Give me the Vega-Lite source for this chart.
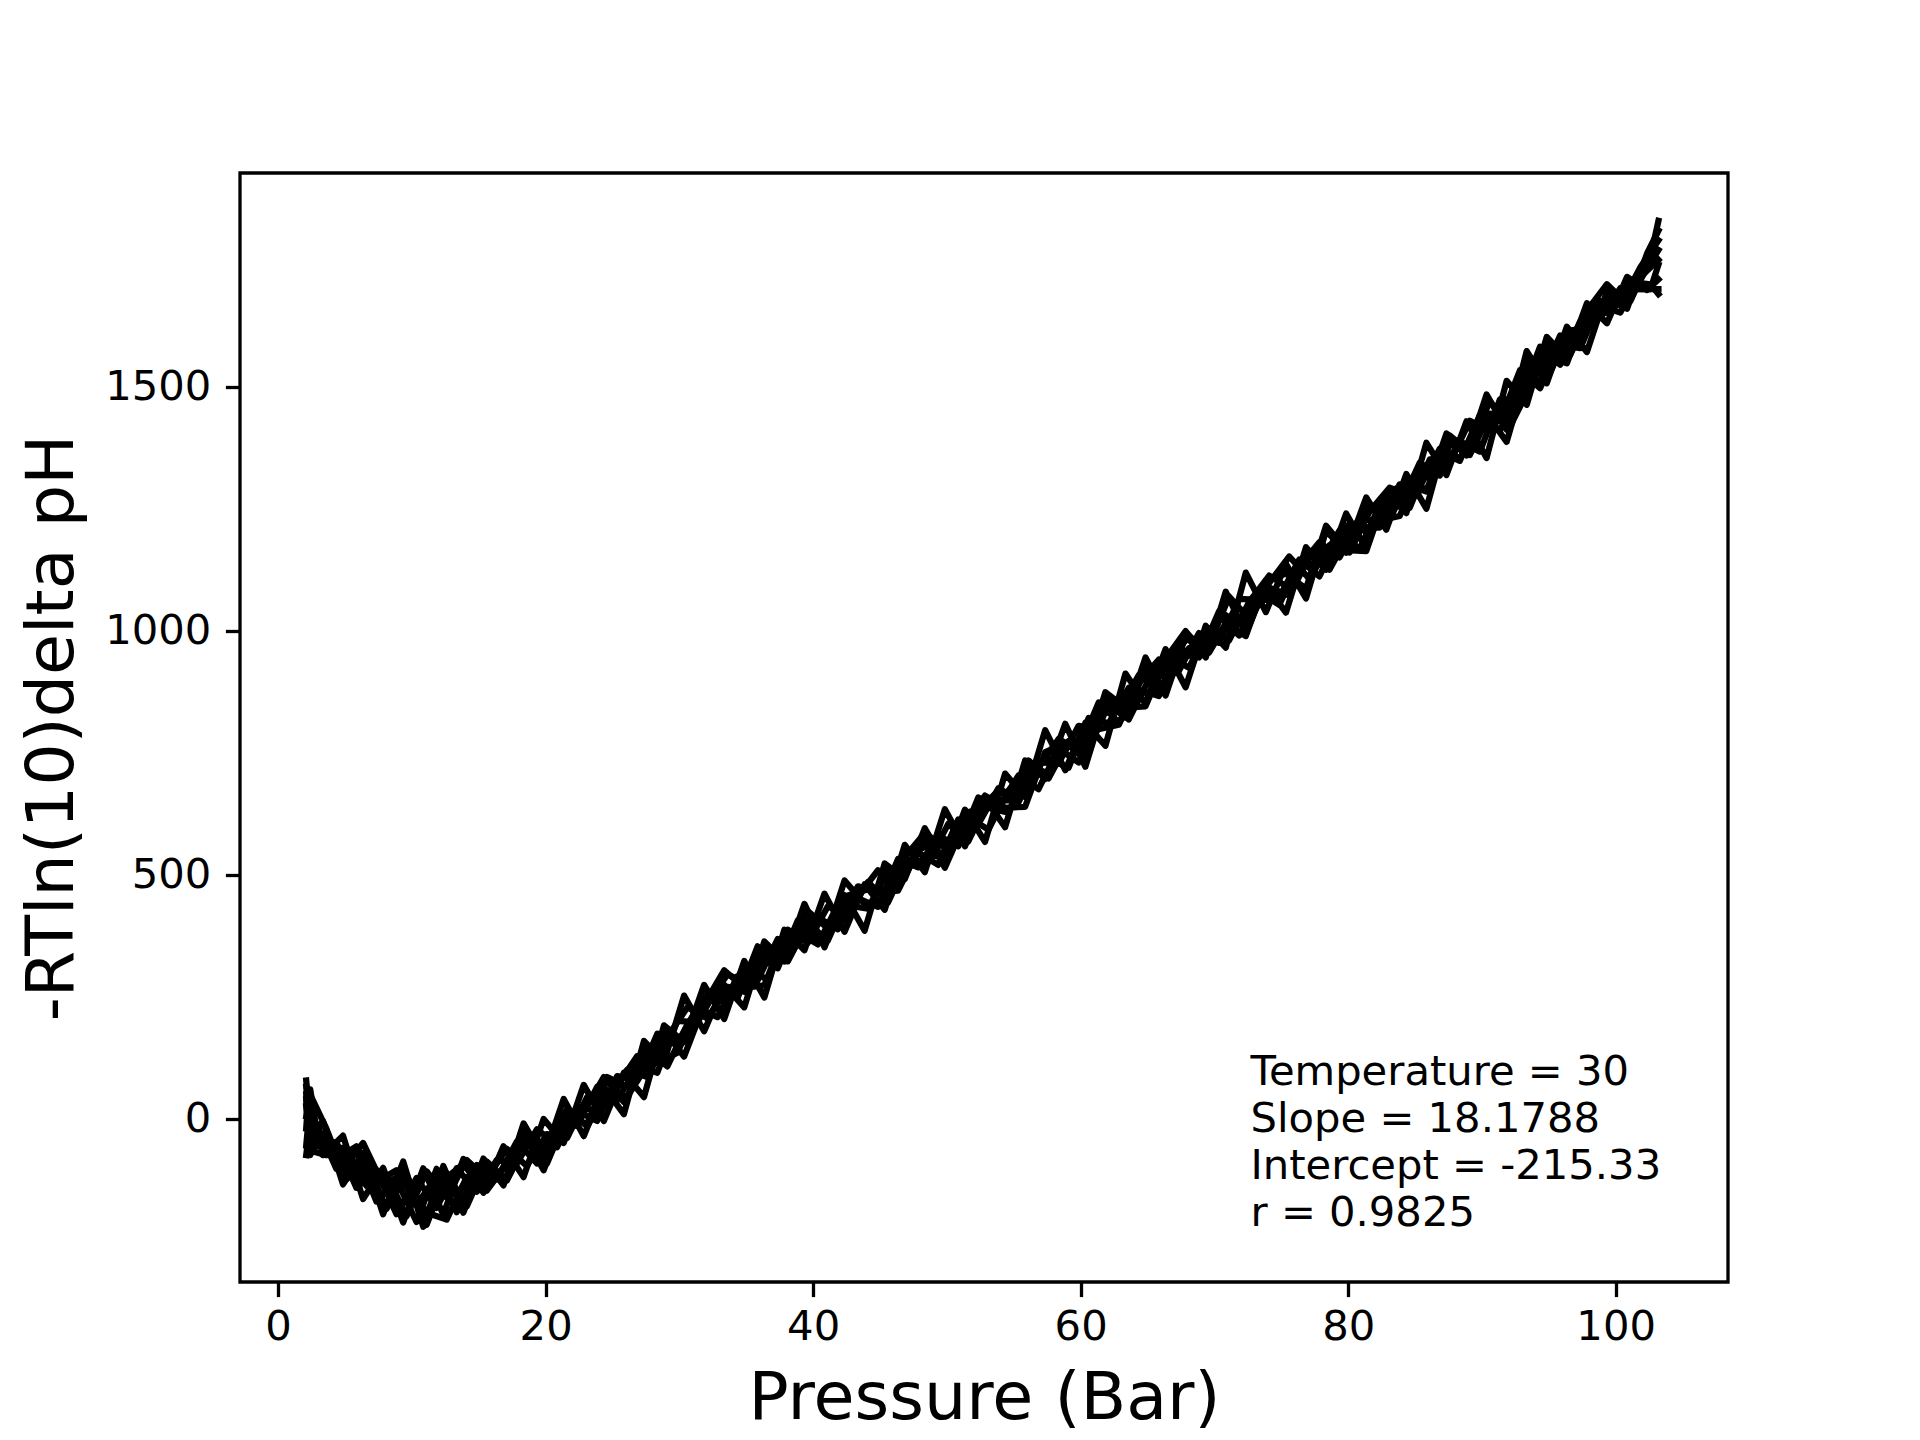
{
  "$schema": "https://vega.github.io/schema/vega-lite/v6.json",
  "width": 1488,
  "height": 1109,
  "autosize": {"type": "none"},
  "padding": {"left": 240, "top": 173, "right": 192, "bottom": 158},
  "background": "white",
  "config": {
    "font": "DejaVu Sans",
    "view": {"stroke": "black", "strokeWidth": 3.3},
    "axis": {
      "domain": false,
      "grid": false,
      "tickColor": "black",
      "tickWidth": 3.3,
      "tickSize": 14.6,
      "labelFont": "DejaVu Sans",
      "labelFontSize": 41.7,
      "labelColor": "black",
      "labelPadding": 14.6,
      "titleFont": "DejaVu Sans",
      "titleFontSize": 66.7,
      "titleFontWeight": "normal",
      "titleColor": "black"
    }
  },
  "layer": [
    {
      "data": {
        "values": [
          {"s": "1", "p": 2.1, "v": 78}, {"s": "1", "p": 2.3, "v": 20}, {"s": "1", "p": 3.6, "v": -60}, {"s": "1", "p": 5.1, "v": -60},
          {"s": "1", "p": 6.6, "v": -138}, {"s": "1", "p": 8.1, "v": -115}, {"s": "1", "p": 9.6, "v": -200}, {"s": "1", "p": 11.1, "v": -108},
          {"s": "1", "p": 12.6, "v": -162}, {"s": "1", "p": 14.1, "v": -85}, {"s": "1", "p": 15.6, "v": -123}, {"s": "1", "p": 17.1, "v": -62},
          {"s": "1", "p": 18.6, "v": -97}, {"s": "1", "p": 20.1, "v": -32}, {"s": "1", "p": 21.6, "v": -40}, {"s": "1", "p": 23.1, "v": 44},
          {"s": "1", "p": 24.6, "v": 35}, {"s": "1", "p": 26.1, "v": 100}, {"s": "1", "p": 27.6, "v": 85}, {"s": "1", "p": 29.1, "v": 167},
          {"s": "1", "p": 30.6, "v": 228}, {"s": "1", "p": 32.1, "v": 205}, {"s": "1", "p": 33.6, "v": 270}, {"s": "1", "p": 35.1, "v": 258},
          {"s": "1", "p": 36.6, "v": 348}, {"s": "1", "p": 38.1, "v": 342}, {"s": "1", "p": 39.6, "v": 425}, {"s": "1", "p": 41.1, "v": 390},
          {"s": "1", "p": 42.6, "v": 437}, {"s": "1", "p": 44.1, "v": 430}, {"s": "1", "p": 45.6, "v": 508}, {"s": "1", "p": 47.1, "v": 511},
          {"s": "1", "p": 48.6, "v": 580}, {"s": "1", "p": 50.1, "v": 549}, {"s": "1", "p": 51.6, "v": 618}, {"s": "1", "p": 53.1, "v": 592},
          {"s": "1", "p": 54.6, "v": 672}, {"s": "1", "p": 56.1, "v": 724}, {"s": "1", "p": 57.6, "v": 707}, {"s": "1", "p": 59.1, "v": 764},
          {"s": "1", "p": 60.6, "v": 756}, {"s": "1", "p": 62.1, "v": 850}, {"s": "1", "p": 63.6, "v": 848}, {"s": "1", "p": 65.1, "v": 930},
          {"s": "1", "p": 66.6, "v": 897}, {"s": "1", "p": 68.1, "v": 964}, {"s": "1", "p": 69.6, "v": 970}, {"s": "1", "p": 71.1, "v": 1070},
          {"s": "1", "p": 72.6, "v": 1024}, {"s": "1", "p": 74.1, "v": 1088}, {"s": "1", "p": 75.6, "v": 1072}, {"s": "1", "p": 77.1, "v": 1151},
          {"s": "1", "p": 78.6, "v": 1155}, {"s": "1", "p": 80.1, "v": 1220}, {"s": "1", "p": 81.6, "v": 1199}, {"s": "1", "p": 83.1, "v": 1268},
          {"s": "1", "p": 84.6, "v": 1252}, {"s": "1", "p": 86.1, "v": 1351}, {"s": "1", "p": 87.6, "v": 1345}, {"s": "1", "p": 89.1, "v": 1430},
          {"s": "1", "p": 90.6, "v": 1410}, {"s": "1", "p": 92.1, "v": 1478}, {"s": "1", "p": 93.6, "v": 1555}, {"s": "1", "p": 95.1, "v": 1530},
          {"s": "1", "p": 96.6, "v": 1615}, {"s": "1", "p": 98.1, "v": 1622}, {"s": "1", "p": 99.6, "v": 1675}, {"s": "1", "p": 101.1, "v": 1675},
          {"s": "1", "p": 102.6, "v": 1765}, {"s": "1", "p": 103.2, "v": 1840},

          {"s": "2", "p": 2.1, "v": 40}, {"s": "2", "p": 2.4, "v": -75}, {"s": "2", "p": 2.85, "v": -10}, {"s": "2", "p": 4.35, "v": -103},
          {"s": "2", "p": 5.85, "v": -67}, {"s": "2", "p": 7.35, "v": -170}, {"s": "2", "p": 8.85, "v": -126}, {"s": "2", "p": 10.35, "v": -212},
          {"s": "2", "p": 11.85, "v": -103}, {"s": "2", "p": 13.35, "v": -192}, {"s": "2", "p": 14.85, "v": -105}, {"s": "2", "p": 16.35, "v": -125},
          {"s": "2", "p": 17.85, "v": -47}, {"s": "2", "p": 19.35, "v": -92}, {"s": "2", "p": 20.85, "v": -9}, {"s": "2", "p": 22.35, "v": -15},
          {"s": "2", "p": 23.85, "v": 65}, {"s": "2", "p": 25.35, "v": 37}, {"s": "2", "p": 26.85, "v": 108}, {"s": "2", "p": 28.35, "v": 94},
          {"s": "2", "p": 29.85, "v": 200}, {"s": "2", "p": 31.35, "v": 197}, {"s": "2", "p": 32.85, "v": 268}, {"s": "2", "p": 34.35, "v": 247},
          {"s": "2", "p": 35.85, "v": 353}, {"s": "2", "p": 37.35, "v": 318}, {"s": "2", "p": 38.85, "v": 381}, {"s": "2", "p": 40.35, "v": 357},
          {"s": "2", "p": 41.85, "v": 438}, {"s": "2", "p": 43.35, "v": 451}, {"s": "2", "p": 44.85, "v": 434}, {"s": "2", "p": 46.35, "v": 532},
          {"s": "2", "p": 47.85, "v": 515}, {"s": "2", "p": 49.35, "v": 580}, {"s": "2", "p": 50.85, "v": 558}, {"s": "2", "p": 52.35, "v": 658},
          {"s": "2", "p": 53.85, "v": 637}, {"s": "2", "p": 55.35, "v": 703}, {"s": "2", "p": 56.85, "v": 675}, {"s": "2", "p": 58.35, "v": 758},
          {"s": "2", "p": 59.85, "v": 730}, {"s": "2", "p": 61.35, "v": 828}, {"s": "2", "p": 62.85, "v": 837}, {"s": "2", "p": 64.35, "v": 909},
          {"s": "2", "p": 65.85, "v": 876}, {"s": "2", "p": 67.35, "v": 953}, {"s": "2", "p": 68.85, "v": 945}, {"s": "2", "p": 70.35, "v": 1040},
          {"s": "2", "p": 71.85, "v": 1015}, {"s": "2", "p": 73.35, "v": 1078}, {"s": "2", "p": 74.85, "v": 1053}, {"s": "2", "p": 76.35, "v": 1141},
          {"s": "2", "p": 77.85, "v": 1136}, {"s": "2", "p": 79.35, "v": 1205}, {"s": "2", "p": 80.85, "v": 1167}, {"s": "2", "p": 82.35, "v": 1256},
          {"s": "2", "p": 83.85, "v": 1255}, {"s": "2", "p": 85.35, "v": 1344}, {"s": "2", "p": 86.85, "v": 1318}, {"s": "2", "p": 88.35, "v": 1388},
          {"s": "2", "p": 89.85, "v": 1367}, {"s": "2", "p": 91.35, "v": 1474}, {"s": "2", "p": 92.85, "v": 1474}, {"s": "2", "p": 94.35, "v": 1582},
          {"s": "2", "p": 95.85, "v": 1545}, {"s": "2", "p": 97.35, "v": 1634}, {"s": "2", "p": 98.85, "v": 1641}, {"s": "2", "p": 100.35, "v": 1702},
          {"s": "2", "p": 101.85, "v": 1700}, {"s": "2", "p": 103.2, "v": 1700},

          {"s": "3", "p": 2.1, "v": -20}, {"s": "3", "p": 2.3, "v": 55}, {"s": "3", "p": 3.6, "v": -20}, {"s": "3", "p": 5.1, "v": -125},
          {"s": "3", "p": 6.6, "v": -88}, {"s": "3", "p": 8.1, "v": -185}, {"s": "3", "p": 9.6, "v": -115}, {"s": "3", "p": 11.1, "v": -218},
          {"s": "3", "p": 12.6, "v": -112}, {"s": "3", "p": 14.1, "v": -180}, {"s": "3", "p": 15.6, "v": -88}, {"s": "3", "p": 17.1, "v": -127},
          {"s": "3", "p": 18.6, "v": -47}, {"s": "3", "p": 20.1, "v": -92}, {"s": "3", "p": 21.6, "v": 5}, {"s": "3", "p": 23.1, "v": -11},
          {"s": "3", "p": 24.6, "v": 85}, {"s": "3", "p": 26.1, "v": 65}, {"s": "3", "p": 27.6, "v": 140}, {"s": "3", "p": 29.1, "v": 107},
          {"s": "3", "p": 30.6, "v": 193}, {"s": "3", "p": 32.1, "v": 255}, {"s": "3", "p": 33.6, "v": 235}, {"s": "3", "p": 35.1, "v": 313},
          {"s": "3", "p": 36.6, "v": 283}, {"s": "3", "p": 38.1, "v": 387}, {"s": "3", "p": 39.6, "v": 360}, {"s": "3", "p": 41.1, "v": 435},
          {"s": "3", "p": 42.6, "v": 417}, {"s": "3", "p": 44.1, "v": 485}, {"s": "3", "p": 45.6, "v": 443}, {"s": "3", "p": 47.1, "v": 531},
          {"s": "3", "p": 48.6, "v": 525}, {"s": "3", "p": 50.1, "v": 604}, {"s": "3", "p": 51.6, "v": 568}, {"s": "3", "p": 53.1, "v": 652},
          {"s": "3", "p": 54.6, "v": 652}, {"s": "3", "p": 56.1, "v": 734}, {"s": "3", "p": 57.6, "v": 697}, {"s": "3", "p": 59.1, "v": 774},
          {"s": "3", "p": 60.6, "v": 771}, {"s": "3", "p": 62.1, "v": 860}, {"s": "3", "p": 63.6, "v": 818}, {"s": "3", "p": 65.1, "v": 900},
          {"s": "3", "p": 66.6, "v": 947}, {"s": "3", "p": 68.1, "v": 924}, {"s": "3", "p": 69.6, "v": 1005}, {"s": "3", "p": 71.1, "v": 980},
          {"s": "3", "p": 72.6, "v": 1059}, {"s": "3", "p": 74.1, "v": 1113}, {"s": "3", "p": 75.6, "v": 1087}, {"s": "3", "p": 77.1, "v": 1156},
          {"s": "3", "p": 78.6, "v": 1125}, {"s": "3", "p": 80.1, "v": 1200}, {"s": "3", "p": 81.6, "v": 1259}, {"s": "3", "p": 83.1, "v": 1228},
          {"s": "3", "p": 84.6, "v": 1312}, {"s": "3", "p": 86.1, "v": 1316}, {"s": "3", "p": 87.6, "v": 1400}, {"s": "3", "p": 89.1, "v": 1360},
          {"s": "3", "p": 90.6, "v": 1445}, {"s": "3", "p": 92.1, "v": 1438}, {"s": "3", "p": 93.6, "v": 1530}, {"s": "3", "p": 95.1, "v": 1590},
          {"s": "3", "p": 96.6, "v": 1575}, {"s": "3", "p": 98.1, "v": 1657}, {"s": "3", "p": 99.6, "v": 1650}, {"s": "3", "p": 101.1, "v": 1715},
          {"s": "3", "p": 102.6, "v": 1710}, {"s": "3", "p": 103.2, "v": 1690},

          {"s": "4", "p": 2.1, "v": -55}, {"s": "4", "p": 2.4, "v": 30}, {"s": "4", "p": 2.85, "v": -55}, {"s": "4", "p": 4.35, "v": -48},
          {"s": "4", "p": 5.85, "v": -142}, {"s": "4", "p": 7.35, "v": -105}, {"s": "4", "p": 8.85, "v": -196}, {"s": "4", "p": 10.35, "v": -122},
          {"s": "4", "p": 11.85, "v": -183}, {"s": "4", "p": 13.35, "v": -102}, {"s": "4", "p": 14.85, "v": -150}, {"s": "4", "p": 16.35, "v": -85},
          {"s": "4", "p": 17.85, "v": -92}, {"s": "4", "p": 19.35, "v": -22}, {"s": "4", "p": 20.85, "v": -54}, {"s": "4", "p": 22.35, "v": 15},
          {"s": "4", "p": 23.85, "v": -5}, {"s": "4", "p": 25.35, "v": 87}, {"s": "4", "p": 26.85, "v": 78}, {"s": "4", "p": 28.35, "v": 174},
          {"s": "4", "p": 29.85, "v": 155}, {"s": "4", "p": 31.35, "v": 227}, {"s": "4", "p": 32.85, "v": 208}, {"s": "4", "p": 34.35, "v": 292},
          {"s": "4", "p": 35.85, "v": 283}, {"s": "4", "p": 37.35, "v": 368}, {"s": "4", "p": 38.85, "v": 356}, {"s": "4", "p": 40.35, "v": 412},
          {"s": "4", "p": 41.85, "v": 388}, {"s": "4", "p": 43.35, "v": 456}, {"s": "4", "p": 44.85, "v": 509}, {"s": "4", "p": 46.35, "v": 477},
          {"s": "4", "p": 47.85, "v": 545}, {"s": "4", "p": 49.35, "v": 520}, {"s": "4", "p": 50.85, "v": 613}, {"s": "4", "p": 52.35, "v": 603},
          {"s": "4", "p": 53.85, "v": 677}, {"s": "4", "p": 55.35, "v": 653}, {"s": "4", "p": 56.85, "v": 720}, {"s": "4", "p": 58.35, "v": 778},
          {"s": "4", "p": 59.85, "v": 755}, {"s": "4", "p": 61.35, "v": 853}, {"s": "4", "p": 62.85, "v": 812}, {"s": "4", "p": 64.35, "v": 879},
          {"s": "4", "p": 65.85, "v": 866}, {"s": "4", "p": 67.35, "v": 958}, {"s": "4", "p": 68.85, "v": 960}, {"s": "4", "p": 70.35, "v": 1030},
          {"s": "4", "p": 71.85, "v": 990}, {"s": "4", "p": 73.35, "v": 1073}, {"s": "4", "p": 74.85, "v": 1068}, {"s": "4", "p": 76.35, "v": 1146},
          {"s": "4", "p": 77.85, "v": 1111}, {"s": "4", "p": 79.35, "v": 1195}, {"s": "4", "p": 80.85, "v": 1212}, {"s": "4", "p": 82.35, "v": 1211},
          {"s": "4", "p": 83.85, "v": 1300}, {"s": "4", "p": 85.35, "v": 1294}, {"s": "4", "p": 86.85, "v": 1373}, {"s": "4", "p": 88.35, "v": 1353},
          {"s": "4", "p": 89.85, "v": 1432}, {"s": "4", "p": 91.35, "v": 1409}, {"s": "4", "p": 92.85, "v": 1504}, {"s": "4", "p": 94.35, "v": 1512},
          {"s": "4", "p": 95.85, "v": 1605}, {"s": "4", "p": 97.35, "v": 1599}, {"s": "4", "p": 98.85, "v": 1666}, {"s": "4", "p": 100.35, "v": 1652},
          {"s": "4", "p": 101.85, "v": 1725}, {"s": "4", "p": 103.2, "v": 1760},

          {"s": "5", "p": 2.1, "v": 50}, {"s": "5", "p": 2.3, "v": -65}, {"s": "5", "p": 3.6, "v": -75}, {"s": "5", "p": 5.1, "v": -75},
          {"s": "5", "p": 6.6, "v": -73}, {"s": "5", "p": 8.1, "v": -150}, {"s": "5", "p": 9.6, "v": -125}, {"s": "5", "p": 11.1, "v": -193},
          {"s": "5", "p": 12.6, "v": -207}, {"s": "5", "p": 14.1, "v": -120}, {"s": "5", "p": 15.6, "v": -148}, {"s": "5", "p": 17.1, "v": -92},
          {"s": "5", "p": 18.6, "v": -37}, {"s": "5", "p": 20.1, "v": -62}, {"s": "5", "p": 21.6, "v": 20}, {"s": "5", "p": 23.1, "v": -16},
          {"s": "5", "p": 24.6, "v": 55}, {"s": "5", "p": 26.1, "v": 45}, {"s": "5", "p": 27.6, "v": 135}, {"s": "5", "p": 29.1, "v": 162},
          {"s": "5", "p": 30.6, "v": 158}, {"s": "5", "p": 32.1, "v": 240}, {"s": "5", "p": 33.6, "v": 295}, {"s": "5", "p": 35.1, "v": 278},
          {"s": "5", "p": 36.6, "v": 333}, {"s": "5", "p": 38.1, "v": 322}, {"s": "5", "p": 39.6, "v": 400}, {"s": "5", "p": 41.1, "v": 365},
          {"s": "5", "p": 42.6, "v": 457}, {"s": "5", "p": 44.1, "v": 470}, {"s": "5", "p": 45.6, "v": 468}, {"s": "5", "p": 47.1, "v": 551},
          {"s": "5", "p": 48.6, "v": 535}, {"s": "5", "p": 50.1, "v": 544}, {"s": "5", "p": 51.6, "v": 628}, {"s": "5", "p": 53.1, "v": 637},
          {"s": "5", "p": 54.6, "v": 627}, {"s": "5", "p": 56.1, "v": 714}, {"s": "5", "p": 57.6, "v": 737}, {"s": "5", "p": 59.1, "v": 719},
          {"s": "5", "p": 60.6, "v": 821}, {"s": "5", "p": 62.1, "v": 810}, {"s": "5", "p": 63.6, "v": 883}, {"s": "5", "p": 65.1, "v": 870},
          {"s": "5", "p": 66.6, "v": 937}, {"s": "5", "p": 68.1, "v": 989}, {"s": "5", "p": 69.6, "v": 955}, {"s": "5", "p": 71.1, "v": 1025},
          {"s": "5", "p": 72.6, "v": 1024}, {"s": "5", "p": 74.1, "v": 1098}, {"s": "5", "p": 75.6, "v": 1152}, {"s": "5", "p": 77.1, "v": 1106},
          {"s": "5", "p": 78.6, "v": 1175}, {"s": "5", "p": 80.1, "v": 1160}, {"s": "5", "p": 81.6, "v": 1244}, {"s": "5", "p": 83.1, "v": 1293},
          {"s": "5", "p": 84.6, "v": 1277}, {"s": "5", "p": 86.1, "v": 1296}, {"s": "5", "p": 87.6, "v": 1380}, {"s": "5", "p": 89.1, "v": 1380},
          {"s": "5", "p": 90.6, "v": 1470}, {"s": "5", "p": 92.1, "v": 1418}, {"s": "5", "p": 93.6, "v": 1500}, {"s": "5", "p": 95.1, "v": 1580},
          {"s": "5", "p": 96.6, "v": 1565}, {"s": "5", "p": 98.1, "v": 1652}, {"s": "5", "p": 99.6, "v": 1685}, {"s": "5", "p": 101.1, "v": 1700},
          {"s": "5", "p": 102.6, "v": 1700}, {"s": "5", "p": 103.2, "v": 1750},

          {"s": "6", "p": 2.1, "v": 5}, {"s": "6", "p": 2.4, "v": 60}, {"s": "6", "p": 2.85, "v": -20}, {"s": "6", "p": 4.35, "v": -83},
          {"s": "6", "p": 5.85, "v": -57}, {"s": "6", "p": 7.35, "v": -130}, {"s": "6", "p": 8.85, "v": -106}, {"s": "6", "p": 10.35, "v": -177},
          {"s": "6", "p": 11.85, "v": -118}, {"s": "6", "p": 13.35, "v": -157}, {"s": "6", "p": 14.85, "v": -95}, {"s": "6", "p": 16.35, "v": -120},
          {"s": "6", "p": 17.85, "v": -57}, {"s": "6", "p": 19.35, "v": -47}, {"s": "6", "p": 20.85, "v": -59}, {"s": "6", "p": 22.35, "v": 25},
          {"s": "6", "p": 23.85, "v": 15}, {"s": "6", "p": 25.35, "v": 67}, {"s": "6", "p": 26.85, "v": 128}, {"s": "6", "p": 28.35, "v": 114},
          {"s": "6", "p": 29.85, "v": 135}, {"s": "6", "p": 31.35, "v": 227}, {"s": "6", "p": 32.85, "v": 248}, {"s": "6", "p": 34.35, "v": 257},
          {"s": "6", "p": 35.85, "v": 333}, {"s": "6", "p": 37.35, "v": 308}, {"s": "6", "p": 38.85, "v": 406}, {"s": "6", "p": 40.35, "v": 402},
          {"s": "6", "p": 41.85, "v": 398}, {"s": "6", "p": 43.35, "v": 476}, {"s": "6", "p": 44.85, "v": 464}, {"s": "6", "p": 46.35, "v": 467},
          {"s": "6", "p": 47.85, "v": 550}, {"s": "6", "p": 49.35, "v": 570}, {"s": "6", "p": 50.85, "v": 563}, {"s": "6", "p": 52.35, "v": 633},
          {"s": "6", "p": 53.85, "v": 672}, {"s": "6", "p": 55.35, "v": 648}, {"s": "6", "p": 56.85, "v": 730}, {"s": "6", "p": 58.35, "v": 728},
          {"s": "6", "p": 59.85, "v": 805}, {"s": "6", "p": 61.35, "v": 798}, {"s": "6", "p": 62.85, "v": 807}, {"s": "6", "p": 64.35, "v": 894},
          {"s": "6", "p": 65.85, "v": 941}, {"s": "6", "p": 67.35, "v": 918}, {"s": "6", "p": 68.85, "v": 995}, {"s": "6", "p": 70.35, "v": 975},
          {"s": "6", "p": 71.85, "v": 1065}, {"s": "6", "p": 73.35, "v": 1063}, {"s": "6", "p": 74.85, "v": 1063}, {"s": "6", "p": 76.35, "v": 1131},
          {"s": "6", "p": 77.85, "v": 1181}, {"s": "6", "p": 79.35, "v": 1150}, {"s": "6", "p": 80.85, "v": 1227}, {"s": "6", "p": 82.35, "v": 1226},
          {"s": "6", "p": 83.85, "v": 1235}, {"s": "6", "p": 85.35, "v": 1324}, {"s": "6", "p": 86.85, "v": 1368}, {"s": "6", "p": 88.35, "v": 1348},
          {"s": "6", "p": 89.85, "v": 1442}, {"s": "6", "p": 91.35, "v": 1429}, {"s": "6", "p": 92.85, "v": 1534}, {"s": "6", "p": 94.35, "v": 1497},
          {"s": "6", "p": 95.85, "v": 1585}, {"s": "6", "p": 97.35, "v": 1579}, {"s": "6", "p": 98.85, "v": 1676}, {"s": "6", "p": 100.35, "v": 1667},
          {"s": "6", "p": 101.85, "v": 1745}, {"s": "6", "p": 103.2, "v": 1800},

          {"s": "7", "p": 2.1, "v": 65}, {"s": "7", "p": 2.5, "v": -45}, {"s": "7", "p": 3.35, "v": -5}, {"s": "7", "p": 4.85, "v": -135},
          {"s": "7", "p": 6.35, "v": -70}, {"s": "7", "p": 7.85, "v": -196}, {"s": "7", "p": 9.35, "v": -88}, {"s": "7", "p": 10.85, "v": -222},
          {"s": "7", "p": 12.35, "v": -97}, {"s": "7", "p": 13.85, "v": -193}, {"s": "7", "p": 15.35, "v": -82}, {"s": "7", "p": 16.85, "v": -137},
          {"s": "7", "p": 18.35, "v": -10}, {"s": "7", "p": 19.85, "v": -81}, {"s": "7", "p": 21.35, "v": 40}, {"s": "7", "p": 22.85, "v": -36},
          {"s": "7", "p": 24.35, "v": 65}, {"s": "7", "p": 25.85, "v": 9}, {"s": "7", "p": 27.35, "v": 159}, {"s": "7", "p": 28.85, "v": 116},
          {"s": "7", "p": 30.35, "v": 252}, {"s": "7", "p": 31.85, "v": 179}, {"s": "7", "p": 33.35, "v": 274}, {"s": "7", "p": 34.85, "v": 228},
          {"s": "7", "p": 36.35, "v": 363}, {"s": "7", "p": 37.85, "v": 322}, {"s": "7", "p": 39.35, "v": 440}, {"s": "7", "p": 40.85, "v": 351},
          {"s": "7", "p": 42.35, "v": 458}, {"s": "7", "p": 43.85, "v": 385}, {"s": "7", "p": 45.35, "v": 523}, {"s": "7", "p": 46.85, "v": 491},
          {"s": "7", "p": 48.35, "v": 595}, {"s": "7", "p": 49.85, "v": 524}, {"s": "7", "p": 51.35, "v": 633}, {"s": "7", "p": 52.85, "v": 567},
          {"s": "7", "p": 54.35, "v": 707}, {"s": "7", "p": 55.85, "v": 659}, {"s": "7", "p": 57.35, "v": 796}, {"s": "7", "p": 58.85, "v": 714},
          {"s": "7", "p": 60.35, "v": 811}, {"s": "7", "p": 61.85, "v": 764}, {"s": "7", "p": 63.35, "v": 912}, {"s": "7", "p": 64.85, "v": 850},
          {"s": "7", "p": 66.35, "v": 962}, {"s": "7", "p": 67.85, "v": 884}, {"s": "7", "p": 69.35, "v": 1010}, {"s": "7", "p": 70.85, "v": 965},
          {"s": "7", "p": 72.35, "v": 1119}, {"s": "7", "p": 73.85, "v": 1038}, {"s": "7", "p": 75.35, "v": 1137}, {"s": "7", "p": 76.85, "v": 1066},
          {"s": "7", "p": 78.35, "v": 1205}, {"s": "7", "p": 79.85, "v": 1160}, {"s": "7", "p": 81.35, "v": 1273}, {"s": "7", "p": 82.85, "v": 1207},
          {"s": "7", "p": 84.35, "v": 1321}, {"s": "7", "p": 85.85, "v": 1250}, {"s": "7", "p": 87.35, "v": 1399}, {"s": "7", "p": 88.85, "v": 1359},
          {"s": "7", "p": 90.35, "v": 1484}, {"s": "7", "p": 91.85, "v": 1412}, {"s": "7", "p": 93.35, "v": 1573}, {"s": "7", "p": 94.85, "v": 1507},
          {"s": "7", "p": 96.35, "v": 1623}, {"s": "7", "p": 97.85, "v": 1571}, {"s": "7", "p": 99.35, "v": 1695}, {"s": "7", "p": 100.85, "v": 1660},
          {"s": "7", "p": 102.35, "v": 1773}, {"s": "7", "p": 103.2, "v": 1820},

          {"s": "8", "p": 2.1, "v": -75}, {"s": "8", "p": 2.5, "v": 15}, {"s": "8", "p": 3.35, "v": -75}, {"s": "8", "p": 4.85, "v": -35},
          {"s": "8", "p": 6.35, "v": -165}, {"s": "8", "p": 7.85, "v": -101}, {"s": "8", "p": 9.35, "v": -213}, {"s": "8", "p": 10.85, "v": -102},
          {"s": "8", "p": 12.35, "v": -197}, {"s": "8", "p": 13.85, "v": -83}, {"s": "8", "p": 15.35, "v": -152}, {"s": "8", "p": 16.85, "v": -57},
          {"s": "8", "p": 18.35, "v": -120}, {"s": "8", "p": 19.85, "v": -1}, {"s": "8", "p": 21.35, "v": -50}, {"s": "8", "p": 22.85, "v": 69},
          {"s": "8", "p": 24.35, "v": -5}, {"s": "8", "p": 25.85, "v": 94}, {"s": "8", "p": 27.35, "v": 44}, {"s": "8", "p": 28.85, "v": 191},
          {"s": "8", "p": 30.35, "v": 157}, {"s": "8", "p": 31.85, "v": 274}, {"s": "8", "p": 33.35, "v": 204}, {"s": "8", "p": 34.85, "v": 323},
          {"s": "8", "p": 36.35, "v": 248}, {"s": "8", "p": 37.85, "v": 387}, {"s": "8", "p": 39.35, "v": 345}, {"s": "8", "p": 40.85, "v": 461},
          {"s": "8", "p": 42.35, "v": 383}, {"s": "8", "p": 43.85, "v": 480}, {"s": "8", "p": 45.35, "v": 428}, {"s": "8", "p": 46.85, "v": 561},
          {"s": "8", "p": 48.35, "v": 505}, {"s": "8", "p": 49.85, "v": 634}, {"s": "8", "p": 51.35, "v": 558}, {"s": "8", "p": 52.85, "v": 657},
          {"s": "8", "p": 54.35, "v": 597}, {"s": "8", "p": 55.85, "v": 734}, {"s": "8", "p": 57.35, "v": 696}, {"s": "8", "p": 58.85, "v": 809},
          {"s": "8", "p": 60.35, "v": 721}, {"s": "8", "p": 61.85, "v": 854}, {"s": "8", "p": 63.35, "v": 822}, {"s": "8", "p": 64.85, "v": 945},
          {"s": "8", "p": 66.35, "v": 867}, {"s": "8", "p": 67.85, "v": 989}, {"s": "8", "p": 69.35, "v": 945}, {"s": "8", "p": 70.85, "v": 1080},
          {"s": "8", "p": 72.35, "v": 994}, {"s": "8", "p": 73.85, "v": 1093}, {"s": "8", "p": 75.35, "v": 1037}, {"s": "8", "p": 76.85, "v": 1171},
          {"s": "8", "p": 78.35, "v": 1125}, {"s": "8", "p": 79.85, "v": 1240}, {"s": "8", "p": 81.35, "v": 1168}, {"s": "8", "p": 82.85, "v": 1282},
          {"s": "8", "p": 84.35, "v": 1241}, {"s": "8", "p": 85.85, "v": 1385}, {"s": "8", "p": 87.35, "v": 1319}, {"s": "8", "p": 88.85, "v": 1429},
          {"s": "8", "p": 90.35, "v": 1354}, {"s": "8", "p": 91.85, "v": 1512}, {"s": "8", "p": 93.35, "v": 1463}, {"s": "8", "p": 94.85, "v": 1602},
          {"s": "8", "p": 96.35, "v": 1558}, {"s": "8", "p": 97.85, "v": 1671}, {"s": "8", "p": 99.35, "v": 1630}, {"s": "8", "p": 100.85, "v": 1725},
          {"s": "8", "p": 102.35, "v": 1698}, {"s": "8", "p": 103.2, "v": 1720},

          {"s": "9", "p": 2.1, "v": 25}, {"s": "9", "p": 2.5, "v": -70}, {"s": "9", "p": 3.35, "v": -35}, {"s": "9", "p": 4.85, "v": -100},
          {"s": "9", "p": 6.35, "v": -50}, {"s": "9", "p": 7.85, "v": -136}, {"s": "9", "p": 9.35, "v": -113}, {"s": "9", "p": 10.85, "v": -207},
          {"s": "9", "p": 12.35, "v": -127}, {"s": "9", "p": 13.85, "v": -93}, {"s": "9", "p": 15.35, "v": -147}, {"s": "9", "p": 16.85, "v": -102},
          {"s": "9", "p": 18.35, "v": -30}, {"s": "9", "p": 19.85, "v": -106}, {"s": "9", "p": 21.35, "v": 0}, {"s": "9", "p": 22.85, "v": 14},
          {"s": "9", "p": 24.35, "v": 85}, {"s": "9", "p": 25.85, "v": 34}, {"s": "9", "p": 27.35, "v": 99}, {"s": "9", "p": 28.85, "v": 181},
          {"s": "9", "p": 30.35, "v": 127}, {"s": "9", "p": 31.85, "v": 234}, {"s": "9", "p": 33.35, "v": 304}, {"s": "9", "p": 34.85, "v": 268},
          {"s": "9", "p": 36.35, "v": 273}, {"s": "9", "p": 37.85, "v": 377}, {"s": "9", "p": 39.35, "v": 385}, {"s": "9", "p": 40.85, "v": 361},
          {"s": "9", "p": 42.35, "v": 488}, {"s": "9", "p": 43.85, "v": 440}, {"s": "9", "p": 45.35, "v": 448}, {"s": "9", "p": 46.85, "v": 536},
          {"s": "9", "p": 48.35, "v": 585}, {"s": "9", "p": 49.85, "v": 514}, {"s": "9", "p": 51.35, "v": 608}, {"s": "9", "p": 52.85, "v": 662},
          {"s": "9", "p": 54.35, "v": 637}, {"s": "9", "p": 55.85, "v": 639}, {"s": "9", "p": 57.35, "v": 751}, {"s": "9", "p": 58.85, "v": 769},
          {"s": "9", "p": 60.35, "v": 741}, {"s": "9", "p": 61.85, "v": 874}, {"s": "9", "p": 63.35, "v": 842}, {"s": "9", "p": 64.85, "v": 845},
          {"s": "9", "p": 66.35, "v": 942}, {"s": "9", "p": 67.85, "v": 999}, {"s": "9", "p": 69.35, "v": 950}, {"s": "9", "p": 70.85, "v": 1015},
          {"s": "9", "p": 72.35, "v": 989}, {"s": "9", "p": 73.85, "v": 1103}, {"s": "9", "p": 75.35, "v": 1117}, {"s": "9", "p": 76.85, "v": 1086},
          {"s": "9", "p": 78.35, "v": 1215}, {"s": "9", "p": 79.85, "v": 1165}, {"s": "9", "p": 81.35, "v": 1163}, {"s": "9", "p": 82.85, "v": 1282},
          {"s": "9", "p": 84.35, "v": 1301}, {"s": "9", "p": 85.85, "v": 1285}, {"s": "9", "p": 87.35, "v": 1404}, {"s": "9", "p": 88.85, "v": 1374},
          {"s": "9", "p": 90.35, "v": 1444}, {"s": "9", "p": 91.85, "v": 1387}, {"s": "9", "p": 93.35, "v": 1528}, {"s": "9", "p": 94.85, "v": 1562},
          {"s": "9", "p": 96.35, "v": 1548}, {"s": "9", "p": 97.85, "v": 1656}, {"s": "9", "p": 99.35, "v": 1710}, {"s": "9", "p": 100.85, "v": 1670},
          {"s": "9", "p": 102.35, "v": 1743}, {"s": "9", "p": 103.2, "v": 1780}
        ]
      },
      "mark": {"type": "line", "color": "black", "strokeWidth": 6.25, "strokeJoin": "round", "strokeCap": "square", "clip": true},
      "encoding": {
        "x": {
          "field": "p",
          "type": "quantitative",
          "title": "Pressure (Bar)",
          "scale": {"domain": [-2.85, 108.4], "nice": false, "zero": false},
          "axis": {"values": [0, 20, 40, 60, 80, 100], "labelPadding": 10, "titlePadding": 17}
        },
        "y": {
          "field": "v",
          "type": "quantitative",
          "title": "-RTln(10)delta pH",
          "scale": {"domain": [-335, 1938], "nice": false, "zero": false},
          "axis": {"values": [0, 500, 1000, 1500], "format": "d", "titlePadding": 18}
        },
        "detail": {"field": "s", "type": "nominal"}
      }
    },
    {
      "data": {
        "values": [
          {"p": 72.7, "v": 69, "t": "Temperature = 30\nSlope = 18.1788\nIntercept = -215.33\nr = 0.9825"}
        ]
      },
      "mark": {
        "type": "text",
        "align": "left",
        "baseline": "alphabetic",
        "lineBreak": "\n",
        "lineHeight": 47,
        "font": "DejaVu Sans",
        "fontSize": 41.7,
        "color": "black"
      },
      "encoding": {
        "x": {"field": "p", "type": "quantitative"},
        "y": {"field": "v", "type": "quantitative"},
        "text": {"field": "t", "type": "nominal"}
      }
    }
  ]
}
